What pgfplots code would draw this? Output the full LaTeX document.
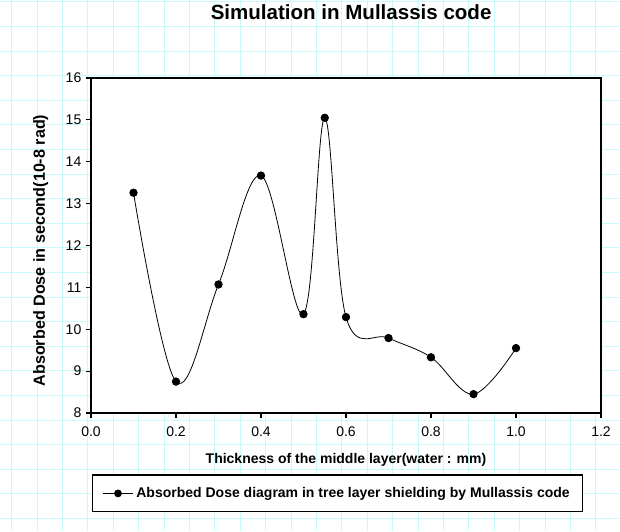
\documentclass[border=0pt]{standalone}
\usepackage{pgfplots}
\pgfplotsset{compat=1.18}
\usepackage{fontspec}
\setmainfont{Liberation Sans}
\definecolor{gridcyan}{RGB}{200,250,250}
\begin{document}
\begin{tikzpicture}[x=0.75pt,y=0.75pt]
\path[use as bounding box] (0,0) rectangle (620,531);
\fill[white] (0,0) rectangle (620,531);
\foreach \k in {0,...,23} {\draw[gridcyan,line width=0.75pt] ({11.7+25.4*\k},0) -- ({11.7+25.4*\k},531);}
\foreach \k in {0,...,21} {\draw[gridcyan,line width=0.75pt] (0,{531-2-24.6*\k}) -- (620,{531-2-24.6*\k});}
\coordinate (axsw) at (91,118);
\begin{axis}[
  at={(axsw)}, anchor=south west,
  scale only axis, width=382.5pt, height=251.25pt,
  xmin=0, xmax=1.2, ymin=8, ymax=16,
  xtick={0,0.2,0.4,0.6,0.8,1.0,1.2},
  ytick={8,9,10,11,12,13,14,15,16},
  xticklabel style={yshift=-3pt, /pgf/number format/.cd,fixed,fixed zerofill,precision=1},
  /pgf/number format/assume math mode=true,
  tick align=outside, xtick pos=left, ytick pos=left,
  major tick length=3.75pt,
  every tick/.style={black, line width=0.9pt},
  axis line style={black, line width=0.9pt},
  axis background/.style={fill=white},
  tick label style={font=\fontsize{10.5}{12}\selectfont},
  title={Simulation in Mullassis code},
  title style={font=\bfseries\fontsize{15.4}{18}\selectfont, at={(0.51,1.173)}, anchor=center, yshift=0pt},
  xlabel={Thickness of the middle layer(water : mm)},
  ylabel={Absorbed Dose in second(10-8 rad)},
  xlabel style={font=\bfseries\fontsize{10.5}{12}\selectfont, at={(0.5,-0.140)}, anchor=center},
  ylabel style={font=\bfseries\fontsize{12.1}{14}\selectfont, at={(-0.0986,0.485)}, anchor=center, rotate=0},
  legend style={at={(0.483,-0.240)}, anchor=center, draw=black, line width=0.9pt, fill=white,
    font=\bfseries\fontsize{10.5}{12}\selectfont, inner xsep=7.5pt, inner ysep=7.2pt},
  legend image code/.code={
    \draw[black, line width=0.6pt] (0pt,0pt) -- (23pt,0pt);
    \fill[black] (11.5pt,0pt) circle (2.6pt);
  },
]
\addplot[black, line width=0.6pt, smooth, tension=0.6, mark=*, mark size=2.8pt, mark options={fill=black}]
  coordinates {
  (0.1,13.26) (0.2,8.75) (0.3,11.07) (0.4,13.67) (0.5,10.36) (0.55,15.05)
  (0.6,10.29) (0.7,9.79) (0.8,9.33) (0.9,8.45) (1.0,9.55)
  };
\addlegendentry{Absorbed Dose diagram in tree layer shielding by Mullassis code}
\end{axis}
\end{tikzpicture}
\end{document}
